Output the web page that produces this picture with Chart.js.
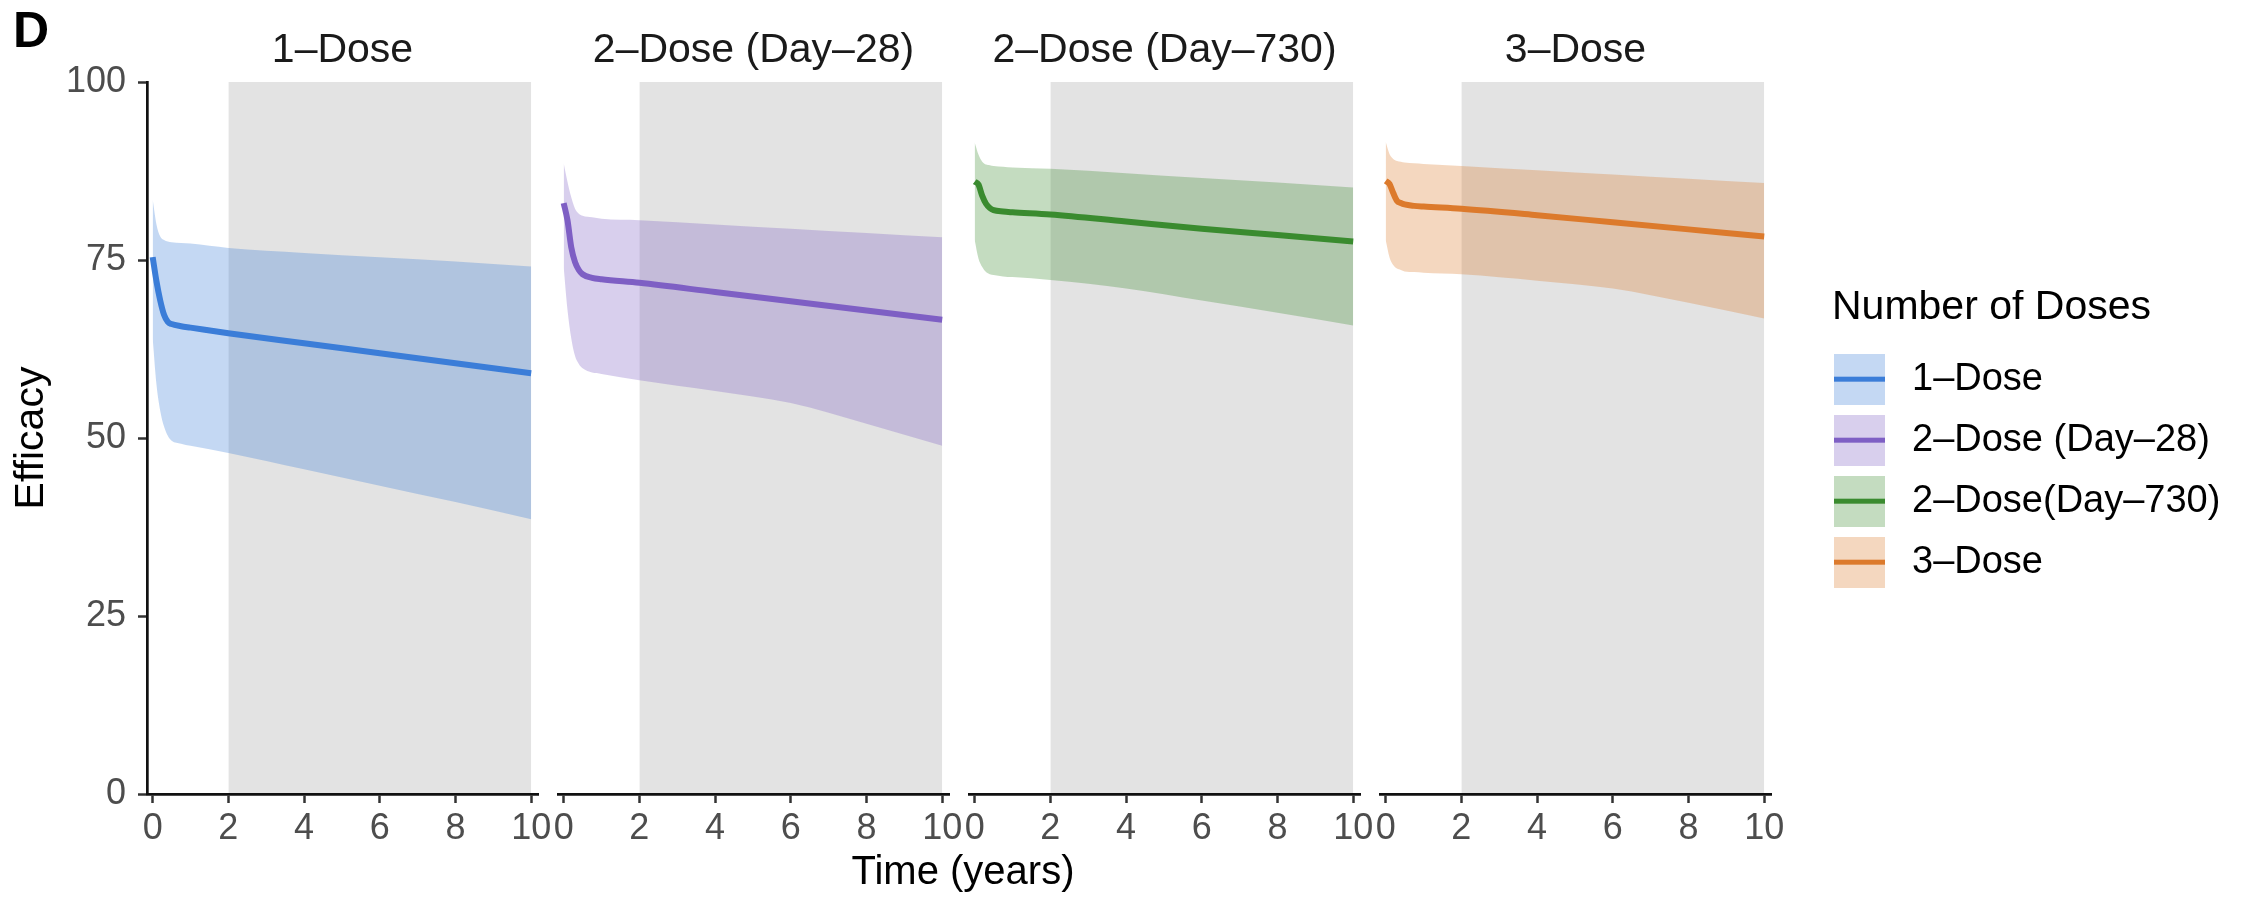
<!DOCTYPE html>
<html>
<head>
<meta charset="utf-8">
<script src="https://cdn.jsdelivr.net/npm/chart.js@4.4.1/dist/chart.umd.min.js"></script>
<style>
html, body { margin: 0; padding: 0; background: #fff; }
#wrap { position: relative; width: 2249px; height: 898px; overflow: hidden; background: #fff;
        font-family: "Liberation Sans", Arial, Helvetica, sans-serif; }
#wrap canvas { position: absolute; top: 0; }
.lbl { position: absolute; white-space: nowrap; color: #000; }
</style>
</head>
<body>
<div id="wrap">
  <canvas id="p0"></canvas>
  <canvas id="p1"></canvas>
  <canvas id="p2"></canvas>
  <canvas id="p3"></canvas>
  <canvas id="leg"></canvas>
  <div class="lbl" id="tag" style="left:13px;top:5px;font-size:50px;line-height:50px;font-weight:bold;">D</div>
  <div class="lbl" id="xtitle" style="left:663px;width:600px;top:850px;font-size:40px;line-height:40px;text-align:center;">Time (years)</div>
</div>
<script>
// ---------------- data ----------------
const timePoints = [0, 0.1, 0.2, 0.3, 0.4, 0.5, 0.75, 1, 2, 4, 6, 8, 10];

const oneDoseMean  = [75.4, 72.0, 69.3, 67.3, 66.3, 66.0, 65.7, 65.5, 64.7, 63.3, 61.9, 60.5, 59.1];
const oneDoseUpper = [83.5, 80.0, 78.3, 77.8, 77.6, 77.5, 77.4, 77.3, 76.7, 76.0, 75.4, 74.8, 74.1];
const oneDoseLower = [64.0, 57.5, 53.8, 51.6, 50.3, 49.6, 49.2, 48.9, 47.9, 45.6, 43.3, 41.0, 38.6];

const twoDose28Mean  = [83.0, 80.6, 76.8, 74.7, 73.6, 73.0, 72.5, 72.3, 71.8, 70.5, 69.2, 67.9, 66.6];
const twoDose28Upper = [88.6, 86.0, 83.8, 82.2, 81.5, 81.2, 81.0, 80.8, 80.6, 80.0, 79.4, 78.8, 78.2];
const twoDose28Lower = [74.0, 68.0, 64.0, 61.5, 60.4, 59.8, 59.2, 59.0, 58.1, 56.6, 54.9, 52.0, 48.9];

const twoDose730Mean  = [86.0, 85.6, 84.0, 82.9, 82.3, 82.0, 81.8, 81.7, 81.4, 80.4, 79.4, 78.5, 77.6];
const twoDose730Upper = [91.5, 89.8, 88.8, 88.4, 88.3, 88.2, 88.1, 88.0, 87.8, 87.2, 86.5, 85.9, 85.2];
const twoDose730Lower = [77.8, 75.2, 74.0, 73.3, 73.0, 72.9, 72.7, 72.6, 72.2, 71.0, 69.3, 67.6, 65.8];

const threeDoseMean  = [86.1, 85.7, 84.4, 83.3, 83.0, 82.8, 82.6, 82.5, 82.2, 81.3, 80.3, 79.3, 78.3];
const threeDoseUpper = [91.6, 89.9, 89.2, 88.9, 88.8, 88.7, 88.6, 88.5, 88.2, 87.6, 87.0, 86.4, 85.8];
const threeDoseLower = [77.8, 75.4, 74.3, 73.8, 73.6, 73.4, 73.3, 73.2, 73.0, 72.1, 71.0, 69.0, 66.8];

const panelTitles  = ['1–Dose', '2–Dose (Day–28)', '2–Dose (Day–730)', '3–Dose'];
const legendLabels = ['1–Dose', '2–Dose (Day–28)', '2–Dose(Day–730)', '3–Dose'];
const legendTitle  = 'Number of Doses';
const xTicks = [0, 2, 4, 6, 8, 10];
const yTicks = [0, 25, 50, 75, 100];
const shadeStart = 2, shadeEnd = 10, shadeTop = 100;

// ---------------- styles / layout ----------------
const means  = [oneDoseMean, twoDose28Mean, twoDose730Mean, threeDoseMean];
const uppers = [oneDoseUpper, twoDose28Upper, twoDose730Upper, threeDoseUpper];
const lowers = [oneDoseLower, twoDose28Lower, twoDose730Lower, threeDoseLower];
const lineColors = ['#3B7DD8', '#7E5FC4', '#3A8B2F', '#DC7A2C'];
const bandColors = ['rgba(59,125,216,0.3)', 'rgba(126,95,196,0.3)', 'rgba(58,139,47,0.3)', 'rgba(220,122,44,0.3)'];
const shadeColor = '#E3E3E3';
const FONT = '"Liberation Sans", Arial, Helvetica, sans-serif';
const H = 898;
const panelLefts = [147, 558, 969, 1380];
const panelW = 391;
const padSide = 30;
const plotTop = 82, plotBottom = 794;
const xMin = -0.15, xMax = 10.18;

Chart.defaults.font.family = FONT;

function pts(ys) { return timePoints.map((t, i) => ({ x: t, y: ys[i] })); }

function makePanel(idx) {
  const showY = idx === 0;
  const el = document.getElementById('p' + idx);
  const left = showY ? 0 : panelLefts[idx] - padSide;
  const width = showY ? panelLefts[0] + panelW + padSide : panelW + 2 * padSide;
  el.width = width; el.height = H;
  el.style.left = left + 'px'; el.style.width = width + 'px'; el.style.height = H + 'px';

  const axisGrid = { display: true, drawOnChartArea: false, drawTicks: true, tickLength: 9, tickColor: '#333', tickWidth: 2.5 };
  const axisBorder = { display: true, color: '#111', width: 2.7, z: 1 };

  new Chart(el, {
    type: 'line',
    data: {
      datasets: [
        { label: legendLabels[idx], data: pts(means[idx]), borderColor: lineColors[idx], borderWidth: 6,
          pointRadius: 0, fill: false, cubicInterpolationMode: 'monotone', order: 0 },
        { label: 'upper', data: pts(uppers[idx]), borderWidth: 0, borderColor: 'rgba(0,0,0,0)', pointRadius: 0,
          backgroundColor: bandColors[idx], fill: '+1', cubicInterpolationMode: 'monotone', order: 1 },
        { label: 'lower', data: pts(lowers[idx]), borderWidth: 0, borderColor: 'rgba(0,0,0,0)', pointRadius: 0,
          fill: false, cubicInterpolationMode: 'monotone', order: 2 },
        { label: 'shade', data: [{ x: shadeStart, y: shadeTop }, { x: shadeEnd, y: shadeTop }], borderWidth: 0,
          borderColor: 'rgba(0,0,0,0)', pointRadius: 0, backgroundColor: shadeColor, fill: 'origin', order: 3 }
      ]
    },
    options: {
      responsive: false, animation: false, devicePixelRatio: 1,
      events: [],
      layout: { padding: { left: showY ? 0 : padSide, right: padSide, top: 0, bottom: 0 } },
      plugins: {
        legend: { display: false },
        tooltip: { enabled: false },
        title: { display: false }
      },
      scales: {
        x: {
          type: 'linear', position: 'bottom', min: xMin, max: xMax,
          afterBuildTicks: s => { s.ticks = xTicks.map(v => ({ value: v })); },
          afterFit: s => { s.height = H - plotBottom; },
          grid: axisGrid,
          border: axisBorder,
          ticks: { color: '#4D4D4D', font: { family: FONT, size: 36 }, padding: 4, maxRotation: 0, autoSkip: false }
        },
        strip: {
          type: 'linear', position: 'top', axis: 'x', min: xMin, max: xMax,
          afterFit: s => { s.height = plotTop; },
          grid: { display: false, drawTicks: false },
          border: { display: false },
          ticks: { display: false },
          title: { display: true, text: panelTitles[idx], color: '#1A1A1A',
                   font: { family: FONT, size: 41, weight: 'normal', lineHeight: 1.2 },
                   padding: { top: 26, bottom: 0 } }
        },
        y: {
          type: 'linear', min: 0, max: 100, display: showY,
          afterBuildTicks: s => { s.ticks = yTicks.map(v => ({ value: v })); },
          afterFit: s => { if (showY) s.width = panelLefts[0]; },
          title: { display: true, text: 'Efficacy', color: '#000', font: { family: FONT, size: 41, lineHeight: 1.2 },
                   padding: { top: 7, bottom: 0 } },
          grid: axisGrid,
          border: axisBorder,
          ticks: { color: '#4D4D4D', font: { family: FONT, size: 36 }, padding: 12, autoSkip: false }
        }
      }
    }
  });
}

for (let i = 0; i < 4; i++) makePanel(i);

// ---------------- legend ----------------
function keyImage(i) {
  const c = document.createElement('canvas');
  c.width = 80; c.height = 51;
  const g = c.getContext('2d');
  g.fillStyle = bandColors[i];
  g.fillRect(0, 0, 51, 51);
  g.strokeStyle = lineColors[i];
  g.lineWidth = 5;
  g.beginPath(); g.moveTo(0, 25.5); g.lineTo(51, 25.5); g.stroke();
  return c;
}
const keyImages = legendLabels.map((_, i) => keyImage(i));

(function makeLegend() {
  const el = document.getElementById('leg');
  const left = 1790, width = 2249 - 1790;
  el.width = width; el.height = H;
  el.style.left = left + 'px'; el.style.width = width + 'px'; el.style.height = H + 'px';
  new Chart(el, {
    type: 'line',
    data: { datasets: legendLabels.map((l, i) => ({ label: l, data: [], borderColor: lineColors[i], backgroundColor: bandColors[i] })) },
    options: {
      responsive: false, animation: false, devicePixelRatio: 1, events: [],
      layout: { padding: { left: 42, top: 290, right: 0, bottom: 0 } },
      scales: { x: { display: false }, y: { display: false } },
      plugins: {
        tooltip: { enabled: false },
        legend: {
          display: true, position: 'left', align: 'start', maxWidth: 417,
          title: { display: true, text: legendTitle, color: '#000', position: 'start',
                   font: { family: FONT, size: 41, lineHeight: 1.15 }, padding: { top: -3, bottom: 3 } },
          labels: {
            color: '#000', font: { family: FONT, size: 38 }, padding: 23,
            usePointStyle: true, pointStyleWidth: 38,
            generateLabels: () => legendLabels.map((l, i) => ({
              text: l, pointStyle: keyImages[i], fillStyle: bandColors[i], strokeStyle: lineColors[i],
              lineWidth: 0, hidden: false, datasetIndex: i, fontColor: '#000'
            }))
          }
        }
      }
    }
  });
})();
</script>
</body>
</html>
